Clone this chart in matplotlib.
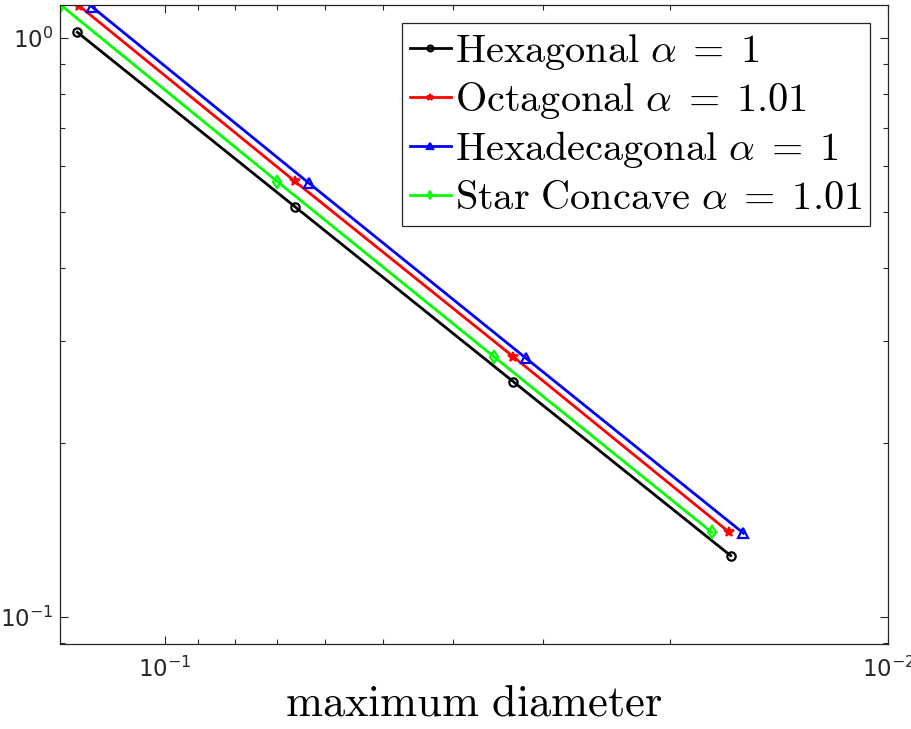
import numpy as np
import matplotlib
matplotlib.use("Agg")
import matplotlib.pyplot as plt
from matplotlib.ticker import LogLocator, NullFormatter

plt.rcParams['mathtext.fontset'] = 'cm'

# mesh size h (maximum diameter) and error for each mesh family
h_hex = [0.1322, 0.0661, 0.0330, 0.01651]
err_hex = [1.023, 0.511, 0.255, 0.1276]

h_oct = [0.1315, 0.0662, 0.0330, 0.01658]
err_oct = [1.137, 0.566, 0.2816, 0.1400]

h_hexadec = [0.1263, 0.0632, 0.03167, 0.01585]
err_hexadec = [1.133, 0.561, 0.2797, 0.1395]

h_star = [0.1394, 0.0699, 0.0351, 0.01753]
err_star = [1.140, 0.5646, 0.2816, 0.1400]

labels = [r'$\mathrm{Hexagonal}\ \alpha\;=\;1$',
          r'$\mathrm{Octagonal}\ \alpha\;=\;1.01$',
          r'$\mathrm{Hexadecagonal}\ \alpha\;=\;1$',
          r'$\mathrm{Star\ Concave}\ \alpha\;=\;1.01$']

fig = plt.figure(figsize=(9.11, 7.29), dpi=100)
ax = fig.add_axes([0.0659, 0.1166, 0.909, 0.8765])

ax.loglog(h_hex, err_hex, color='black', marker='o', mfc='none', ms=6, mew=1.6, lw=2.0, label=labels[0])
ax.loglog(h_oct, err_oct, color='red', marker='*', ms=7, mew=1.3, lw=2.0, label=labels[1])
ax.loglog(h_hexadec, err_hexadec, color='blue', marker='^', mfc='none', ms=7, mew=1.6, lw=2.0, label=labels[2])
ax.loglog(h_star, err_star, color='#00ff00', marker='d', mfc='none', ms=6, mew=1.6, lw=2.0, label=labels[3])

ax.set_xlim(0.1397, 0.01)
ax.set_ylim(0.0898, 1.140)

ax.xaxis.set_major_locator(LogLocator(base=10, numticks=10))
ax.yaxis.set_major_locator(LogLocator(base=10, numticks=10))
ax.xaxis.set_minor_formatter(NullFormatter())
ax.yaxis.set_minor_formatter(NullFormatter())
ax.tick_params(which='both', direction='in', top=True, right=True, labelsize=16.5, colors='#262626')
ax.tick_params(which='major', length=6, width=0.8)
ax.tick_params(which='minor', length=3.5, width=0.8)
ax.tick_params(axis='x', pad=9)
ax.tick_params(axis='y', pad=5)
for s in ax.spines.values():
    s.set_color('#262626')
    s.set_linewidth(0.9)

ax.set_xlabel(r'$\mathrm{maximum\ diameter}$', fontsize=32, labelpad=0)

leg = ax.legend(loc='upper right', fontsize=29, handlelength=1.0, handletextpad=0.1,
                borderpad=0.2, labelspacing=0.2, borderaxespad=0.45, fancybox=False,
                edgecolor='#262626', framealpha=1, markerscale=0.7)
leg.get_frame().set_linewidth(0.9)

fig.savefig("out.png", dpi=100)
plt.close(fig)
